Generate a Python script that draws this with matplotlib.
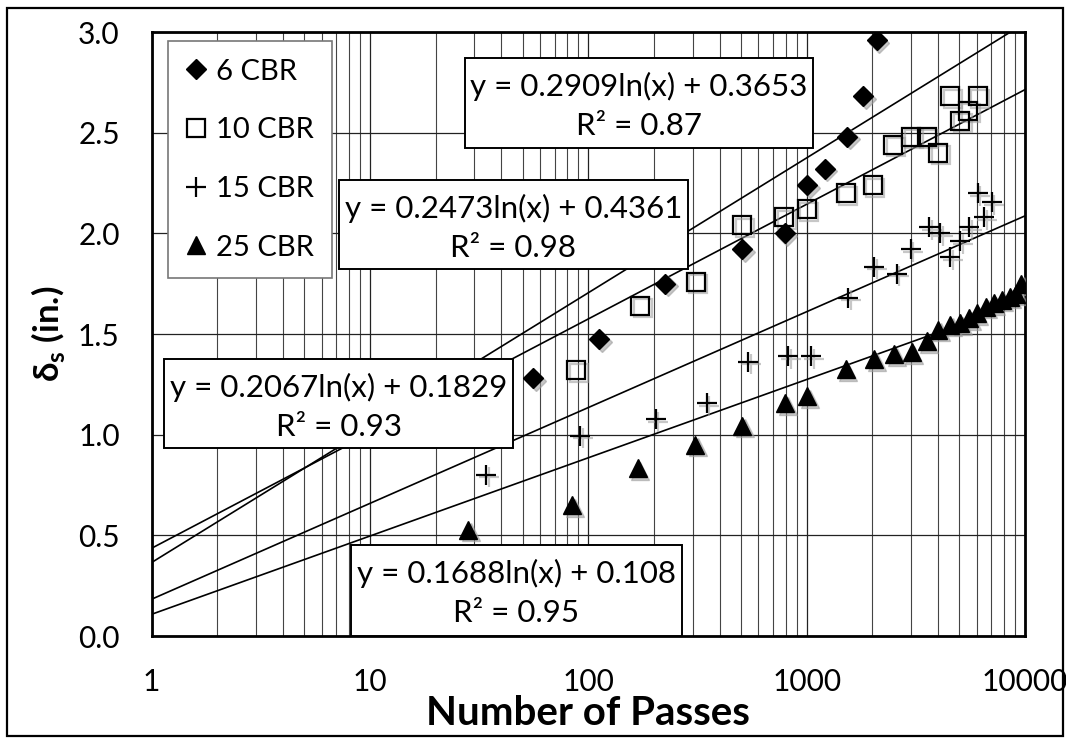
import numpy as np
import matplotlib
matplotlib.use('Agg')
import matplotlib.pyplot as plt
from matplotlib.patches import Rectangle
from matplotlib.transforms import offset_copy

plt.rcParams['font.family'] = ['Lato', 'DejaVu Sans']
plt.rcParams['mathtext.fontset'] = 'custom'
plt.rcParams['mathtext.rm'] = 'Lato'

# 6 CBR
passes_6 = [56, 112, 225, 508, 794, 1008, 1210, 1531, 1820, 2094]
rut_6 = [1.28, 1.475, 1.75, 1.92, 2.00, 2.24, 2.32, 2.48, 2.68, 2.96]

# 10 CBR
passes_10 = [88, 173, 311, 508, 788, 1000, 1513, 2007, 2495, 3020, 3550, 4000,
             4540, 5040, 5510, 6080]
rut_10 = [1.32, 1.64, 1.76, 2.04, 2.08, 2.12, 2.20, 2.24, 2.44, 2.48, 2.48, 2.40,
          2.68, 2.56, 2.61, 2.68]

# 15 CBR
passes_15 = [34, 92, 204, 349, 541, 824, 1047, 1553, 2037, 2587, 3000, 3638,
             4083, 4540, 5040, 5560, 6060, 6490, 7060]
rut_15 = [0.80, 0.995, 1.076, 1.156, 1.363, 1.39, 1.39, 1.68, 1.835, 1.80, 1.92,
          2.03, 2.00, 1.88, 1.96, 2.03, 2.20, 2.08, 2.155]

# 25 CBR
passes_25 = [28.2, 84.5, 168, 308, 508, 796, 1008, 1512, 2037, 2513, 3030, 3550,
             4010, 4540, 5040, 5560, 6000, 6620, 7210, 7840, 8530, 9140, 9600]
rut_25 = [0.527, 0.65, 0.833, 0.95, 1.045, 1.156, 1.19, 1.326, 1.375, 1.40, 1.41,
          1.465, 1.52, 1.545, 1.553, 1.578, 1.603, 1.636, 1.653, 1.67, 1.686,
          1.70, 1.75]

# log fits: slope, intercept, R2
fit_a = [0.2909, 0.2473, 0.2067, 0.1688]
fit_b = [0.3653, 0.4361, 0.1829, 0.108]
fit_r2 = ['0.87', '0.98', '0.93', '0.95']
fit_b_txt = ['0.3653', '0.4361', '0.1829', '0.108']

series_labels = ['6 CBR', '10 CBR', '15 CBR', '25 CBR']
x_ticks = [1, 10, 100, 1000, 10000]
y_ticks = [0.0, 0.5, 1.0, 1.5, 2.0, 2.5, 3.0]


def main():
    W, H = 1066, 738
    fig = plt.figure(figsize=(W / 100, H / 100), dpi=100)
    L, R, T, B = 151.7, 1025, 32, 636
    ax = fig.add_axes([L / W, 1 - B / H, (R - L) / W, (B - T) / H])

    ax.set_xscale('log')
    ax.set_xlim(1, 10000)
    ax.set_ylim(0, 3.0)

    # grid
    ax.grid(which='major', axis='both', color='#222222', lw=0.9, zorder=0)
    ax.grid(which='minor', axis='x', color='#444444', lw=0.8, zorder=0)
    ax.set_axisbelow(True)

    # trend lines
    xf = np.logspace(0, 4, 300)
    for a, b in zip(fit_a, fit_b):
        ax.plot(xf, a * np.log(xf) + b, color='black', lw=1.2, zorder=3)

    # soft shadows behind markers
    shadow = offset_copy(ax.transData, fig=fig, x=2.5, y=-2.5, units='dots')
    sh = dict(color='#9a9a9a', alpha=0.55, ls='none', transform=shadow, zorder=4)
    ax.plot(passes_6, rut_6, marker='D', ms=10, mec='#9a9a9a', **sh)
    ax.plot(passes_10, rut_10, marker='s', ms=13, mfc='none', mew=1.6, **sh)
    ax.plot(passes_15, rut_15, marker='+', ms=14, mew=1.6, **sh)
    ax.plot(passes_25, rut_25, marker='^', ms=13, **sh)

    ax.plot(passes_6, rut_6, 'D', ms=10, color='black', zorder=5, label=series_labels[0])
    ax.plot(passes_10, rut_10, 's', ms=13, mfc='none', mec='black', mew=1.6, zorder=5,
            label=series_labels[1])
    ax.plot(passes_15, rut_15, '+', ms=14, color='black', mew=1.6, zorder=5,
            label=series_labels[2])
    ax.plot(passes_25, rut_25, '^', ms=13, color='black', zorder=5, label=series_labels[3])

    # equation boxes: left, top, right, bottom in figure pixels
    boxes = [(465, 58, 813, 148), (339, 180, 688, 269),
             (164, 359, 513, 448), (351, 545, 682, 636)]
    for i, (x0, y0, x1, y1) in enumerate(boxes):
        ax.add_patch(Rectangle((x0 / W, 1 - y1 / H), (x1 - x0) / W, (y1 - y0) / H,
                               transform=fig.transFigure, fc='white', ec='black',
                               lw=1.4, zorder=6, clip_on=False))
        xc = (x0 + x1) / 2 / W
        line1 = 'y = %.4fln(x) + %s' % (fit_a[i], fit_b_txt[i])
        line2 = 'R² = %s' % fit_r2[i]
        ax.text(xc, 1 - (y0 + 28) / H, line1, transform=fig.transFigure,
                ha='center', va='center', fontsize=22.5, zorder=7)
        ax.text(xc, 1 - (y0 + 68) / H, line2, transform=fig.transFigure,
                ha='center', va='center', fontsize=22.5, zorder=7)

    leg = ax.legend(loc='upper left', bbox_to_anchor=((168 - L) / (R - L), (B - 41) / (B - T)),
                    borderaxespad=0, fontsize=21, frameon=True, fancybox=False,
                    edgecolor='#777777', framealpha=1, handlelength=0.7,
                    handletextpad=0.35, labelspacing=1.12, borderpad=0.6)
    leg.get_frame().set_linewidth(1.2)
    leg.set_zorder(8)

    ax.set_xticks(x_ticks)
    ax.set_xticklabels([str(t) for t in x_ticks])
    ax.set_yticks(y_ticks)
    ax.set_yticklabels(['%.1f' % t for t in y_ticks])
    ax.tick_params(which='both', length=0, labelsize=21.5, pad=23)

    for s in ax.spines.values():
        s.set_linewidth(2)

    ax.set_xlabel('Number of Passes', fontsize=29, fontweight='bold', labelpad=-1)
    ax.set_ylabel('δ$_\\mathregular{s}$ (in.)', fontsize=25, fontweight='bold', labelpad=8)

    # outer frame around the whole chart
    fig.patches.append(Rectangle((7 / W, 1 - 736 / H), (1063 - 7) / W, (736 - 8) / H,
                                 transform=fig.transFigure, fill=False, ec='black',
                                 lw=1.6, zorder=10))

    fig.savefig('out.png', dpi=100)


if __name__ == '__main__':
    main()
